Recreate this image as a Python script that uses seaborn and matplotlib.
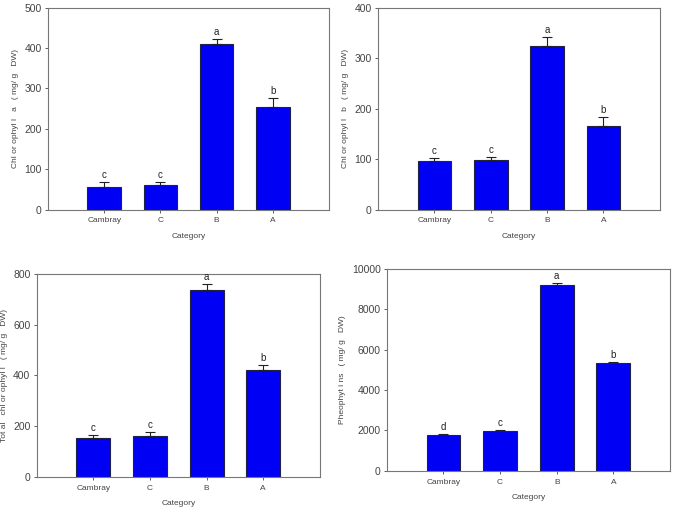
import numpy as np
import pandas as pd
import matplotlib
matplotlib.use("Agg")
import matplotlib.pyplot as plt
import seaborn as sns

categories = ["Cambray", "C", "B", "A"]

chl_a = [57, 61, 411, 254]
chl_a_err = [11, 8, 12, 23]
chl_a_letters = ["c", "c", "a", "b"]

chl_b = [96, 99, 325, 166]
chl_b_err = [7, 5, 16, 18]
chl_b_letters = ["c", "c", "a", "b"]

total_chl = [155, 162, 737, 422]
total_chl_err = [12, 14, 22, 20]
total_chl_letters = ["c", "c", "a", "b"]

pheo = [1770, 1950, 9207, 5355]
pheo_err = [50, 67, 66, 50]
pheo_letters = ["d", "c", "a", "b"]

sns.set_style("white")
plt.rcParams["font.family"] = ["Liberation Sans", "DejaVu Sans"]

GREY = "#444444"


def draw_panel(ax, values, errs, letters, ylabel, ymax, step):
    df = pd.DataFrame({"category": categories, "value": values})
    sns.barplot(data=df, x="category", y="value", ax=ax, color="#0000f5",
                saturation=1, width=0.6, edgecolor="#222244", linewidth=0.8,
                errorbar=None)
    x = np.arange(len(values))
    ax.errorbar(x, values, yerr=[np.zeros(len(errs)), errs], fmt="none",
                ecolor="#222222", elinewidth=0.8, capsize=3.5, capthick=0.8)
    for xi, v, e, lab in zip(x, values, errs, letters):
        ax.annotate(lab, (xi, v + e), xytext=(0, 1.5), textcoords="offset points",
                    ha="center", va="bottom", fontsize=7, color="#222222")
    ax.set_xlim(-1, 4)
    ax.set_ylim(0, ymax)
    ax.set_yticks(np.arange(0, ymax + 1, step))
    ax.set_xlabel("Category", fontsize=6, color=GREY, labelpad=6)
    ax.set_ylabel(ylabel, fontsize=6, color=GREY, labelpad=4)
    ax.tick_params(axis="y", labelsize=7.5, colors=GREY, direction="out",
                   length=2.5, width=0.6, left=True, pad=2)
    ax.tick_params(axis="x", labelsize=6, colors=GREY, direction="out",
                   length=2.5, width=0.6, bottom=True, pad=3)
    for s in ax.spines.values():
        s.set_color("#777777")
        s.set_linewidth(0.8)


fig = plt.figure(figsize=(6.74, 5.08), dpi=100)
ax1 = fig.add_axes([0.0712, 0.587, 0.417, 0.398])
ax2 = fig.add_axes([0.561, 0.587, 0.418, 0.398])
ax3 = fig.add_axes([0.0545, 0.061, 0.420, 0.400])
ax4 = fig.add_axes([0.574, 0.073, 0.420, 0.398])

draw_panel(ax1, chl_a, chl_a_err, chl_a_letters,
           "Chl or ophyl l   a   ( mg/ g   DW)", 500, 100)
draw_panel(ax2, chl_b, chl_b_err, chl_b_letters,
           "Chl or ophyl l   b   ( mg/ g   DW)", 400, 100)
draw_panel(ax3, total_chl, total_chl_err, total_chl_letters,
           "Tot al   chl or ophyl l   ( mg/ g   DW)", 800, 200)
draw_panel(ax4, pheo, pheo_err, pheo_letters,
           "Pheophyt i ns   ( mg/ g   DW)", 10000, 2000)

fig.savefig("out.png", dpi=100)
